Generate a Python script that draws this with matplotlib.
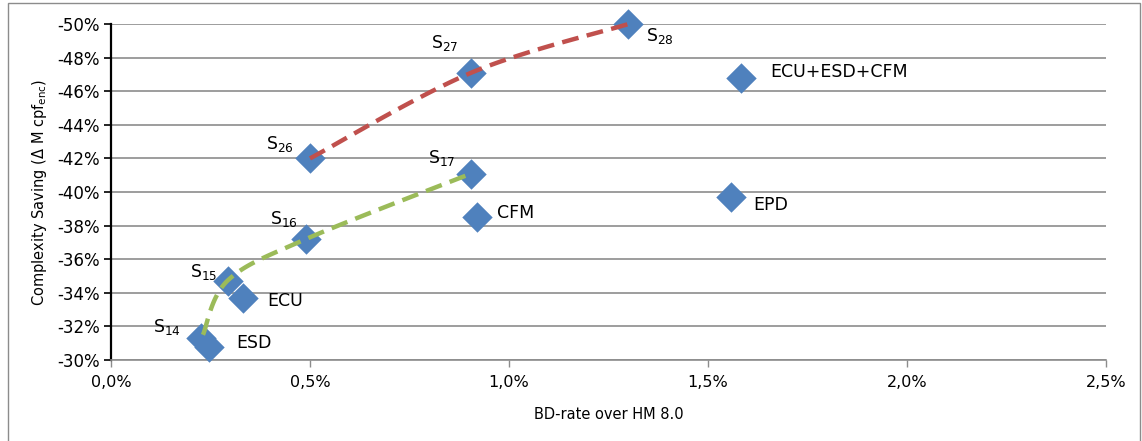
import matplotlib.pyplot as plt
from matplotlib.patches import Rectangle
from matplotlib.ticker import FuncFormatter, MultipleLocator
import numpy as np

plt.rcParams['font.family'] = ['DejaVu Sans']
plt.rcParams['mathtext.default'] = 'regular'

# BD-rate (%) and complexity saving (%) per configuration
names = ['S$_{14}$', 'ESD', 'S$_{15}$', 'ECU', 'S$_{16}$', 'CFM', 'S$_{17}$',
         'S$_{26}$', 'S$_{27}$', 'S$_{28}$', 'EPD', 'ECU+ESD+CFM']
bd_rate = [0.225, 0.245, 0.294, 0.332, 0.49, 0.92, 0.905,
           0.50, 0.905, 1.30, 1.558, 1.583]
saving = [-31.3, -30.8, -34.7, -33.7, -37.2, -38.5, -41.1,
          -42.0, -47.1, -50.0, -39.7, -46.8]
# label offsets in pixels from each marker
label_dx = [-48, 28, -38, 24, -36, 20, -43, -44, -40, 18, 22, 29]
label_dy = [11, 4, 9, -3, 20, 4, 16, 14, 30, -12, -8, 6]

# operating points joined by the two trend curves
green_x = [0.231, 0.294, 0.49, 0.905]
green_y = [-31.5, -34.75, -37.2, -41.1]
red_x = [0.50, 0.905, 1.30]
red_y = [-42.0, -47.1, -50.0]


def smooth(xs, ys, sx=398.0, sy=16.8, n=40):
    # Catmull-Rom style curve computed in screen-like units
    p = np.column_stack([np.array(xs) * sx, np.array(ys) * sy])
    p = np.vstack([p[0], p, p[-1]])
    out = []
    for i in range(1, len(p) - 2):
        p0, p1, p2, p3 = p[i - 1], p[i], p[i + 1], p[i + 2]
        c1 = p1 + (p2 - p0) / 6.0
        c2 = p2 - (p3 - p1) / 6.0
        t = np.linspace(0, 1, n)[:, None]
        seg = ((1 - t) ** 3 * p1 + 3 * (1 - t) ** 2 * t * c1
               + 3 * (1 - t) * t ** 2 * c2 + t ** 3 * p2)
        out.append(seg if i == 1 else seg[1:])
    out = np.vstack(out)
    return out[:, 0] / sx, out[:, 1] / sy


fig = plt.figure(figsize=(11.42, 4.41), dpi=100)
ax = fig.add_axes([111 / 1142, 1 - 360 / 441, 995 / 1142, 336 / 441])

fig.patches.append(Rectangle((8 / 1142, -0.05), 1132 / 1142, 1.05 - 3 / 441,
                             transform=fig.transFigure, fill=False,
                             edgecolor='#8c8c8c', linewidth=1.0))

ax.scatter(bd_rate, saving, marker='D', s=240, color='#4F81BD', zorder=3,
           linewidths=0, clip_on=False)

gx, gy = smooth(green_x, green_y)
ax.plot(gx, gy, color='#9BBB59', lw=3.2, dashes=(3.8, 1.9),
        dash_capstyle='butt', zorder=4, clip_on=False)
rx, ry = smooth(red_x, red_y)
ax.plot(rx, ry, color='#C0504D', lw=3.2, dashes=(3.8, 1.9),
        dash_capstyle='butt', zorder=4, clip_on=False)

for nm, x, y, dx, dy in zip(names, bd_rate, saving, label_dx, label_dy):
    ax.annotate(nm, (x, y), xytext=(dx, dy), textcoords='offset pixels',
                ha='left', va='center', fontsize=12.5, color='black')

ax.set_xlim(0, 2.5)
ax.set_ylim(-30, -50)
ax.xaxis.set_major_locator(MultipleLocator(0.5))
ax.yaxis.set_major_locator(MultipleLocator(2))
ax.xaxis.set_major_formatter(FuncFormatter(lambda v, p: ('%.1f%%' % v).replace('.', ',')))
ax.yaxis.set_major_formatter(FuncFormatter(lambda v, p: '%d%%' % round(v)))

ax.grid(axis='y', color='#8c8c8c', linewidth=1.2)
ax.set_axisbelow(True)
for side in ['top', 'right']:
    ax.spines[side].set_visible(False)
ax.spines['left'].set_color('black')
ax.spines['left'].set_linewidth(1.6)
ax.spines['bottom'].set_color('#8c8c8c')
ax.spines['bottom'].set_linewidth(1.2)
ax.tick_params(axis='y', length=5, width=1.2, color='black', labelsize=12, pad=3)
ax.tick_params(axis='x', length=5, width=1.0, color='#8c8c8c', labelsize=11.5, pad=6)

ax.set_xlabel('BD-rate over HM 8.0', fontsize=10.5, labelpad=12)
ax.set_ylabel('Complexity Saving ($\\Delta$ M cpf$_{enc}$)', fontsize=10.5,
              labelpad=6)

fig.savefig('out.png', dpi=100)
